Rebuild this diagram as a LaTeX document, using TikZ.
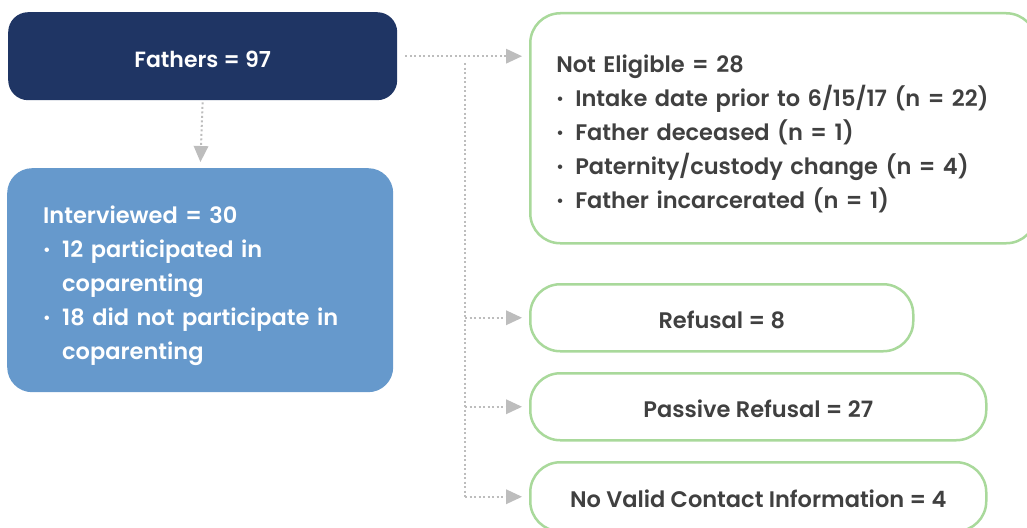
\documentclass[tikz,border=0pt]{standalone}
\usepackage{fontspec}
\setmainfont{Poppins}[BoldFont={Poppins SemiBold}]
\usetikzlibrary{arrows.meta}
\definecolor{navy}{HTML}{1F3564}
\definecolor{midblue}{HTML}{6699CC}
\definecolor{lgreen}{HTML}{A9D99B}
\definecolor{cgray}{HTML}{BDBDBD}
\definecolor{tgray}{HTML}{404040}
\newcommand{\bul}{\makebox[19pt][l]{\raisebox{2pt}{\scalebox{0.7}{•}}}}
\newcommand{\topstrut}{\rule{0pt}{29pt}}
\tikzset{
  fathersbox/.style={fill=navy, draw=none, rounded corners=20pt, text=white,
    font=\fontsize{22}{26}\selectfont\bfseries, anchor=north west,
    text height=22pt, text depth=0pt},
  intbox/.style={fill=midblue, draw=none, rounded corners=25pt, text=white,
    font=\fontsize{22.5}{34}\selectfont\bfseries, anchor=north west, align=left},
  greenbox/.style={draw=lgreen, line width=2.5pt, fill=white, rounded corners=30pt,
    text=tgray, font=\fontsize{22.5}{34}\selectfont\bfseries, anchor=north west},
  onebox/.style={greenbox, text height=21pt, text depth=0pt},
  dotline/.style={draw=cgray, line width=2pt, dash pattern=on 2pt off 2.5pt},
  conn/.style={dotline, -{Triangle[length=16pt, width=15pt, fill=cgray, color=cgray, line width=0pt]}},
}
\begin{document}
\begin{tikzpicture}[x=1pt,y=-1pt]
\useasboundingbox (0,0) rectangle (1027,527);
\node[fathersbox, minimum width=389pt, minimum height=88pt] (f) at (8,12) {Fathers = 97};
\node[intbox, minimum width=386pt, minimum height=224pt, text width=340pt, inner xsep=23pt] (i) at (7,168)
  {\topstrut\hspace*{13pt}Interviewed = 30\\
   \hspace*{13pt}\bul 12 participated in\\
   \hspace*{32pt}coparenting\\
   \hspace*{13pt}\bul 18 did not participate in\\
   \hspace*{32pt}coparenting};
\node[greenbox, align=left, minimum width=506pt, minimum height=230pt, text width=470pt, inner xsep=18pt] (ne) at (529,12)
  {\topstrut\hspace*{8pt}Not Eligible = 28\\
   \hspace*{8pt}\bul Intake date prior to 6/15/17 (n = 22)\\
   \hspace*{8pt}\bul Father deceased (n = 1)\\
   \hspace*{8pt}\bul Paternity/custody change (n = 4)\\
   \hspace*{8pt}\bul Father incarcerated (n = 1)};
\node[onebox, minimum width=383pt, minimum height=67pt] (r) at (529,283) {Refusal = 8};
\node[onebox, minimum width=456pt, minimum height=67pt] (p) at (529,372) {Passive Refusal = 27};
\node[onebox, minimum width=456pt, minimum height=69pt] (nv) at (529,461) {No Valid Contact Information = 4};
\draw[conn, shorten <=8pt, shorten >=7pt] (f.east) -- (f.east -| ne.west);
\draw[conn, shorten <=2pt, shorten >=6pt] (f.south) -- (i.north);
\coordinate (jt) at (465,63);
\draw[dotline] (jt) -- (jt |- nv.west);
\draw[conn, shorten >=7pt] (jt |- r.west) -- (r.west);
\draw[conn, shorten >=7pt] (jt |- p.west) -- (p.west);
\draw[conn, shorten >=7pt] (jt |- nv.west) -- (nv.west);
\end{tikzpicture}
\end{document}
